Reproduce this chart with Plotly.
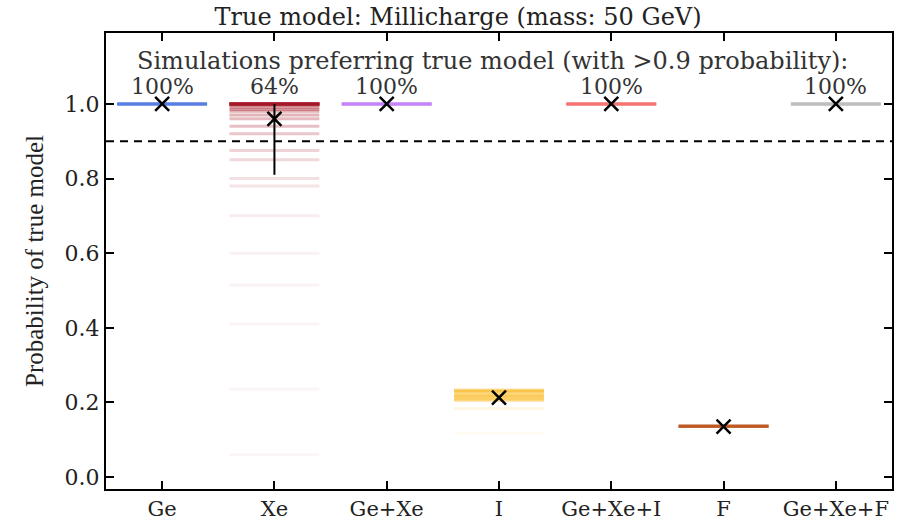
import plotly.graph_objects as go

# ---------------- data ----------------
categories = ["Ge", "Xe", "Ge+Xe", "I", "Ge+Xe+I", "F", "Ge+Xe+F"]

sim_ge = [1.0] * 6
sim_xe = [1.0] * 10 + [0.995, 0.99, 0.985, 0.98, 0.97, 0.96, 0.94, 0.92,
                       0.875, 0.85, 0.80, 0.78, 0.70, 0.60, 0.515, 0.41, 0.235, 0.06]
sim_gexe = [1.0] * 6
sim_i = [0.233, 0.231, 0.229, 0.227, 0.222, 0.220, 0.218, 0.216, 0.214, 0.212,
         0.210, 0.208, 0.206, 0.205, 0.183, 0.118]
sim_gexei = [1.0] * 6
sim_f = [0.136] * 6
sim_gexef = [1.0] * 6

summary_vals = [1.0, 0.96, 1.0, 0.213, 1.0, 0.135, 1.0]
err_plus = [0, 0.04, 0, 0, 0, 0, 0]
err_minus = [0, 0.15, 0, 0, 0, 0, 0]
percent_labels = ["100%", "64%", "100%", "", "100%", "", "100%"]
threshold = 0.9

title_text = "True model: Millicharge (mass: 50 GeV)"
subtitle_text = "Simulations preferring true model (with >0.9 probability):"
ylabel = "Probability of true model"

# ---------------- styles ----------------
colors = ["80,120,225", "165,25,40", "190,125,250", "250,180,20",
          "245,110,110", "185,80,20", "185,185,185"]
sims = [sim_ge, sim_xe, sim_gexe, sim_i, sim_gexei, sim_f, sim_gexef]
half_w = 0.4

fig = go.Figure()
for i, (vals, col) in enumerate(zip(sims, colors)):
    pmax = max(vals)
    for p in vals:
        a = 0.045 + 0.33 * (p / pmax) ** 6
        fig.add_trace(go.Scatter(
            x=[i - half_w, i + half_w], y=[p, p], mode="lines",
            line=dict(color=f"rgba({col},{a:.3f})", width=3),
            hoverinfo="skip", showlegend=False))

fig.add_trace(go.Scatter(
    x=list(range(len(categories))), y=summary_vals, mode="markers",
    marker=dict(symbol="x-thin", size=14, line=dict(color="black", width=2.5)),
    error_y=dict(type="data", symmetric=False, array=err_plus, arrayminus=err_minus,
                 color="black", thickness=2, width=0),
    showlegend=False))

fig.add_shape(type="line", xref="paper", x0=0, x1=1, yref="y", y0=threshold, y1=threshold,
              line=dict(color="black", width=2, dash="8px,6px"))

serif = "DejaVu Serif"
for i, lab in enumerate(percent_labels):
    if lab:
        fig.add_annotation(x=i, y=1.047, text=lab, showarrow=False,
                           font=dict(family=serif, size=22, color="#333"),
                           xanchor="center", yanchor="middle")
fig.add_annotation(x=2.94, y=1.115, text=subtitle_text, showarrow=False,
                   font=dict(family=serif, size=24, color="#333"),
                   xanchor="center", yanchor="middle")

axis_common = dict(showline=True, linewidth=2, linecolor="black", mirror="ticks",
                   ticks="inside", ticklen=8, tickwidth=2, tickcolor="black",
                   showgrid=False, zeroline=False, automargin=False)

fig.update_layout(
    width=916, height=520,
    margin=dict(l=106, r=24, t=33, b=31),
    plot_bgcolor="white", paper_bgcolor="white",
    title=dict(text=title_text, x=0.5, xanchor="center", y=0.968, yanchor="middle",
               font=dict(family=serif, size=24, color="#222")),
    xaxis=dict(range=[-0.5, 6.5], tickvals=list(range(len(categories))),
               ticktext=categories,
               tickfont=dict(family=serif, size=21, color="#222"), **axis_common),
    yaxis=dict(range=[-0.032, 1.19], tickvals=[0, 0.2, 0.4, 0.6, 0.8, 1.0],
               ticktext=["0.0", "0.2", "0.4", "0.6", "0.8", "1.0"],
               tickfont=dict(family=serif, size=22, color="#222"),
               title=dict(text=ylabel, standoff=14,
                          font=dict(family="Liberation Serif", size=25, color="#222")),
               **axis_common),
)

fig.write_html("out.html")
